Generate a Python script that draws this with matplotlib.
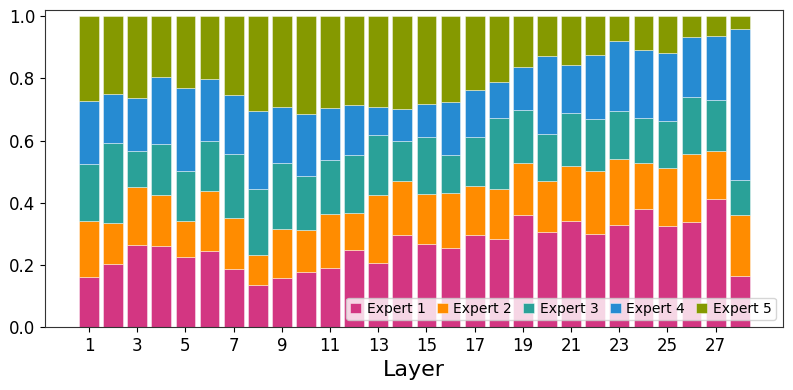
import numpy as np
import matplotlib
matplotlib.use('Agg')
import matplotlib.pyplot as plt

layers = np.arange(1, 29)
expert1 = [0.161, 0.201, 0.265, 0.261, 0.224, 0.245, 0.187, 0.135, 0.156, 0.176,
           0.190, 0.249, 0.204, 0.296, 0.268, 0.255, 0.295, 0.282, 0.360, 0.304,
           0.341, 0.299, 0.328, 0.379, 0.326, 0.338, 0.411, 0.164]
expert2 = [0.180, 0.134, 0.185, 0.165, 0.118, 0.192, 0.165, 0.097, 0.158, 0.135,
           0.173, 0.117, 0.220, 0.173, 0.161, 0.176, 0.160, 0.162, 0.168, 0.165,
           0.178, 0.204, 0.211, 0.148, 0.187, 0.218, 0.155, 0.196]
expert3 = [0.185, 0.258, 0.115, 0.162, 0.159, 0.160, 0.204, 0.213, 0.215, 0.174,
           0.174, 0.187, 0.195, 0.129, 0.182, 0.121, 0.155, 0.230, 0.169, 0.153,
           0.169, 0.165, 0.155, 0.144, 0.150, 0.183, 0.165, 0.112]
expert4 = [0.200, 0.158, 0.172, 0.217, 0.268, 0.202, 0.190, 0.250, 0.180, 0.201,
           0.168, 0.161, 0.089, 0.104, 0.107, 0.173, 0.154, 0.113, 0.139, 0.251,
           0.154, 0.206, 0.226, 0.222, 0.220, 0.193, 0.205, 0.486]
expert5 = [0.274, 0.249, 0.263, 0.195, 0.231, 0.201, 0.254, 0.305, 0.291, 0.314,
           0.295, 0.286, 0.292, 0.298, 0.282, 0.275, 0.236, 0.213, 0.164, 0.127,
           0.158, 0.126, 0.080, 0.107, 0.117, 0.068, 0.064, 0.042]

names = ['Expert 1', 'Expert 2', 'Expert 3', 'Expert 4', 'Expert 5']
colors = ['#d33682', '#ff8c00', '#2aa198', '#268bd2', '#859900']

fig = plt.figure(figsize=(7.93, 3.9), dpi=100)
ax = fig.add_axes([0.057, 0.162, 0.930, 0.812])

bottom = np.zeros(len(layers))
for vals, name, c in zip([expert1, expert2, expert3, expert4, expert5], names, colors):
    vals = np.array(vals)
    ax.bar(layers, vals, width=0.82, bottom=bottom, color=c, label=name,
           edgecolor=(1, 1, 1, 0.5), linewidth=0.6)
    bottom += vals

ax.set_xlim(-0.82, 29.78)
ax.set_ylim(0, 1.02)
ax.set_xticks(np.arange(1, 28, 2))
ax.set_yticks(np.arange(0, 1.01, 0.2))
ax.tick_params(labelsize=12)
ax.set_xlabel('Layer', fontsize=16)
for s in ax.spines.values():
    s.set_color('#333333')

ax.legend(loc='lower right', ncol=5, fontsize=10, handlelength=0.8,
          handletextpad=0.4, columnspacing=0.8, borderaxespad=0.5,
          borderpad=0.3)

fig.savefig('out.png', dpi=100)
